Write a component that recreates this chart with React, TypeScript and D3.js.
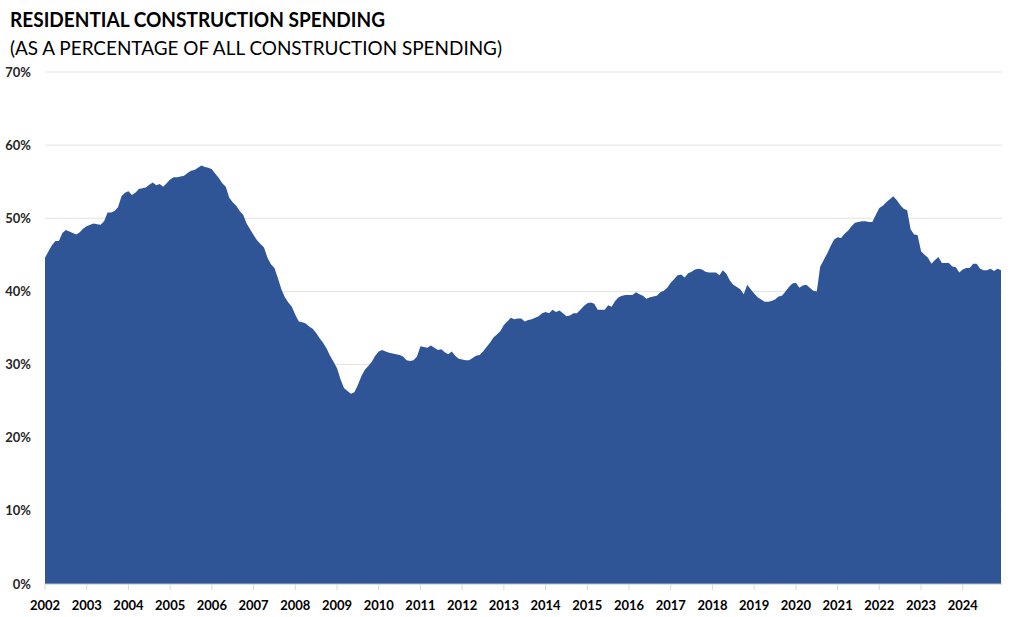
import React from "react";
import * as d3 from "d3";

// monthly share of residential in total construction spending, Jan 2002 – Dec 2024 (%)
const startYear = 2002;
const y2002 = [44.6, 45.5, 46.3, 46.9, 46.9, 48.0, 48.4, 48.2, 48.0, 47.8, 48.1, 48.6];
const y2003 = [48.9, 49.1, 49.3, 49.2, 49.1, 49.6, 50.8, 50.8, 51.0, 51.5, 53.0, 53.5];
const y2004 = [53.7, 53.2, 53.5, 54.0, 54.1, 54.2, 54.6, 54.9, 54.5, 54.7, 54.3, 54.8];
const y2005 = [55.3, 55.6, 55.6, 55.7, 55.8, 56.2, 56.5, 56.6, 56.9, 57.2, 57.0, 56.9];
const y2006 = [56.7, 56.1, 55.5, 54.8, 54.3, 52.8, 52.2, 51.7, 51.0, 50.5, 49.3, 48.5];
const y2007 = [47.7, 47.0, 46.5, 46.0, 44.6, 43.7, 43.2, 41.8, 40.3, 39.2, 38.5, 37.9];
const y2008 = [36.8, 35.9, 35.8, 35.6, 35.2, 34.9, 34.3, 33.6, 33.0, 32.2, 31.2, 30.4];
const y2009 = [29.5, 28.0, 26.8, 26.4, 26.0, 26.2, 27.2, 28.4, 29.3, 29.8, 30.4, 31.2];
const y2010 = [31.8, 32.0, 31.8, 31.6, 31.5, 31.4, 31.3, 31.1, 30.6, 30.5, 30.6, 31.1];
const y2011 = [32.5, 32.4, 32.3, 32.6, 32.3, 32.0, 32.1, 31.7, 31.4, 31.8, 31.2, 30.8];
const y2012 = [30.7, 30.6, 30.6, 30.9, 31.2, 31.3, 31.8, 32.4, 33.0, 33.7, 34.1, 34.6];
const y2013 = [35.4, 35.9, 36.4, 36.2, 36.3, 36.3, 35.9, 36.1, 36.2, 36.4, 36.6, 37.0];
const y2014 = [37.2, 37.0, 37.5, 37.2, 37.4, 37.0, 36.6, 36.7, 37.0, 37.0, 37.5, 38.0];
const y2015 = [38.4, 38.5, 38.3, 37.5, 37.5, 37.5, 38.1, 37.9, 38.7, 39.2, 39.4, 39.5];
const y2016 = [39.5, 39.5, 39.9, 39.6, 39.4, 39.0, 39.2, 39.3, 39.4, 39.9, 40.1, 40.5];
const y2017 = [41.2, 41.7, 42.2, 42.3, 41.9, 42.5, 42.7, 43.0, 43.1, 43.0, 42.7, 42.6];
const y2018 = [42.6, 42.6, 42.2, 42.9, 42.4, 41.5, 40.9, 40.6, 40.3, 39.6, 40.9, 40.3];
const y2019 = [39.7, 39.2, 38.9, 38.6, 38.6, 38.7, 38.9, 39.3, 39.4, 40.0, 40.6, 41.1];
const y2020 = [41.2, 40.5, 40.8, 40.9, 40.5, 40.1, 40.0, 43.4, 44.3, 45.2, 46.2, 47.1];
const y2021 = [47.4, 47.3, 47.9, 48.3, 48.9, 49.4, 49.5, 49.6, 49.6, 49.5, 49.5, 50.5];
const y2022 = [51.4, 51.7, 52.2, 52.6, 53.0, 52.5, 51.8, 51.3, 51.1, 48.5, 47.8, 47.7];
const y2023 = [45.5, 45.0, 44.6, 43.8, 44.3, 44.7, 43.9, 43.9, 43.9, 43.4, 43.3, 42.6];
const y2024 = [43.0, 43.2, 43.2, 43.8, 43.8, 43.1, 42.9, 42.9, 43.1, 42.8, 43.1, 42.9];

const values = [
  ...y2002, ...y2003, ...y2004, ...y2005, ...y2006, ...y2007, ...y2008, ...y2009,
  ...y2010, ...y2011, ...y2012, ...y2013, ...y2014, ...y2015, ...y2016, ...y2017,
  ...y2018, ...y2019, ...y2020, ...y2021, ...y2022, ...y2023, ...y2024,
];
const yTicks = [0, 10, 20, 30, 40, 50, 60, 70];
const yearLabels = d3.range(startYear, 2025);

const W = 1024;
const H = 617;
const font = "Lato, 'Open Sans', sans-serif";

export default function App() {
  const x = d3.scaleLinear().domain([0, values.length - 1]).range([45, 1001]);
  const y = d3.scaleLinear().domain([0, 70]).range([584, 72]);

  const area = d3
    .area<number>()
    .x((_, i) => x(i))
    .y0(y(0))
    .y1((d) => y(d));

  return (
    <svg width={W} height={H} style={{ position: "absolute", left: 0, top: 0 }} fontFamily={font}>
      <rect width={W} height={H} fill="#fff" />
      <text x={10} y={27} fontSize={20} fontWeight="bold" fill="#000" textLength={375} lengthAdjust="spacingAndGlyphs">
        RESIDENTIAL CONSTRUCTION SPENDING
      </text>
      <text x={10} y={55} fontSize={20} fill="#000" textLength={492} lengthAdjust="spacingAndGlyphs">
        (AS A PERCENTAGE OF ALL CONSTRUCTION SPENDING)
      </text>

      {yTicks.map((t) => (
        <g key={t}>
          {t > 0 && <line x1={45} x2={1002} y1={y(t)} y2={y(t)} stroke="#e3e3e3" strokeWidth={1} />}
          <text x={31} y={y(t)} dy="0.35em" textAnchor="end" fontSize={13} fontWeight="bold" fill="#262626">
            {t}%
          </text>
        </g>
      ))}

      <path d={area(values) ?? ""} fill="#2f5597" />

      <line x1={45} x2={1002} y1={y(0)} y2={y(0)} stroke="#bfbfbf" strokeWidth={1} />
      {yearLabels.map((yr, k) => {
        const px = x(k * 12);
        return (
          <g key={yr}>
            <line x1={px} x2={px} y1={584} y2={590} stroke="#d9d9d9" />
            <text x={px} y={605} dy="0.35em" textAnchor="middle" fontSize={13} fontWeight="bold" fill="#000">
              {yr}
            </text>
          </g>
        );
      })}
    </svg>
  );
}
